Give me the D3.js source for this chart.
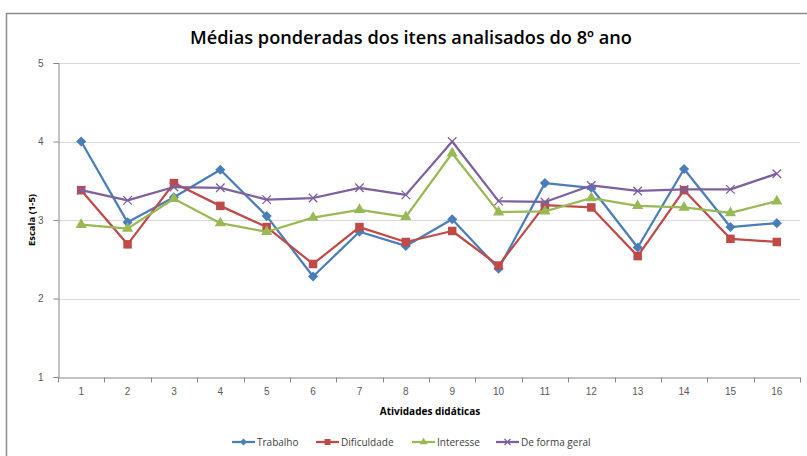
<!DOCTYPE html>
<html>
<head>
<meta charset="utf-8">
<script src="https://cdn.jsdelivr.net/npm/d3@7"></script>
<style>
  body { margin: 0; background: #fff; }
  svg { display: block; font-family: "Open Sans", "Liberation Sans", sans-serif; }
</style>
</head>
<body>
<svg width="807" height="456"></svg>
<script>
const width = 807
const height = 456
const svg = d3.select('svg')

// data
const atividades = d3.range(1, 17)
const yTicks = [1, 2, 3, 4, 5]
const trabalho = [4.0, 2.97, 3.29, 3.64, 3.05, 2.28, 2.85, 2.67, 3.01, 2.38, 3.47, 3.41, 2.65, 3.65, 2.91, 2.96]
const dificuldade = [3.38, 2.69, 3.47, 3.18, 2.91, 2.44, 2.91, 2.72, 2.86, 2.42, 3.19, 3.16, 2.54, 3.38, 2.76, 2.72]
const interesse = [2.94, 2.89, 3.27, 2.96, 2.85, 3.03, 3.13, 3.04, 3.85, 3.10, 3.11, 3.28, 3.18, 3.16, 3.09, 3.24]
const formaGeral = [3.38, 3.25, 3.42, 3.41, 3.26, 3.28, 3.41, 3.32, 4.0, 3.24, 3.23, 3.44, 3.37, 3.39, 3.39, 3.59]

const series = [
  { name: 'Trabalho', values: trabalho, color: '#4A7EBB', marker: 'diamond' },
  { name: 'Dificuldade', values: dificuldade, color: '#BE4B48', marker: 'square' },
  { name: 'Interesse', values: interesse, color: '#98B954', marker: 'triangle' },
  { name: 'De forma geral', values: formaGeral, color: '#7D60A0', marker: 'cross' }
]

const plot = { left: 58, right: 800, top: 63, bottom: 377 }

// chart frame
svg.append('rect')
  .attr('x', 6.5).attr('y', 13.5)
  .attr('width', 830).attr('height', 480)
  .attr('fill', 'white')
  .attr('stroke', '#8c8c8c')
  .attr('stroke-width', 1.5)

const x = d3.scaleBand()
  .domain(atividades)
  .range([plot.left, plot.right])

const y = d3.scaleLinear()
  .domain([1, 5])
  .range([plot.bottom, plot.top])

// gridlines
svg.append('g')
  .selectAll('line')
  .data(yTicks.filter(d => d > 1))
  .join('line')
  .attr('x1', plot.left).attr('x2', plot.right)
  .attr('y1', d => Math.round(y(d)) + 0.5).attr('y2', d => Math.round(y(d)) + 0.5)
  .attr('stroke', '#d9d9d9')
  .attr('stroke-width', 1)

// y axis
const yAxis = svg.append('g')
  .attr('transform', `translate(${plot.left + 0.5},0)`)
  .call(d3.axisLeft(y).tickValues(yTicks).tickSize(5).tickPadding(10).tickFormat(d3.format('d')))
yAxis.select('.domain').attr('stroke', '#868686')
yAxis.selectAll('.tick line').attr('stroke', '#868686')
yAxis.selectAll('text').attr('fill', '#595959').style('font-size', '10px')

// x axis
const xAxis = svg.append('g')
  .attr('transform', `translate(0,${plot.bottom + 0.5})`)
  .call(d3.axisBottom(x).tickSize(0).tickPadding(10))
xAxis.select('.domain').attr('stroke', '#868686')
xAxis.selectAll('text').attr('fill', '#595959').style('font-size', '10px')
xAxis.selectAll('.bound')
  .data(d3.range(0, 17))
  .join('line')
  .attr('x1', i => Math.round(plot.left + i * x.step()) + 0.5)
  .attr('x2', i => Math.round(plot.left + i * x.step()) + 0.5)
  .attr('y1', 0).attr('y2', 5)
  .attr('stroke', '#868686')

// title and axis labels
svg.append('text')
  .attr('x', 411).attr('y', 44)
  .attr('text-anchor', 'middle')
  .style('font-size', '18.2px')
  .style('font-weight', 600)
  .attr('fill', '#000')
  .text('Médias ponderadas dos itens analisados do 8º ano')

svg.append('text')
  .attr('transform', `translate(35,${(plot.top + plot.bottom) / 2}) rotate(-90)`)
  .attr('text-anchor', 'middle')
  .style('font-size', '9.5px')
  .style('font-weight', 'bold')
  .text('Escala (1-5)')

svg.append('text')
  .attr('x', 430).attr('y', 415)
  .attr('text-anchor', 'middle')
  .style('font-size', '10px')
  .style('font-weight', 'bold')
  .text('Atividades didáticas')

const cx = i => x(atividades[i]) + x.bandwidth() / 2

function drawMarker(g, type, color, size) {
  if (type === 'diamond') {
    g.append('path')
      .attr('d', d3.symbol(d3.symbolDiamond2, size * size * 0.9)())
      .attr('fill', color)
  } else if (type === 'square') {
    g.append('rect')
      .attr('x', -size / 2).attr('y', -size / 2)
      .attr('width', size).attr('height', size)
      .attr('fill', color)
  } else if (type === 'triangle') {
    g.append('path')
      .attr('d', d3.symbol(d3.symbolTriangle, size * size * 0.75)())
      .attr('fill', color)
  } else {
    const h = size / 2
    g.append('path')
      .attr('d', `M${-h},${-h}L${h},${h}M${-h},${h}L${h},${-h}`)
      .attr('stroke', color)
      .attr('stroke-width', 1.3)
      .attr('fill', 'none')
  }
}

const line = d3.line()
  .x((d, i) => cx(i))
  .y(d => y(d))

series.forEach(s => {
  svg.append('path')
    .datum(s.values)
    .attr('d', line)
    .attr('fill', 'none')
    .attr('stroke', s.color)
    .attr('stroke-width', 2.25)
    .attr('stroke-linejoin', 'round')
  s.values.forEach((v, i) => {
    const g = svg.append('g').attr('transform', `translate(${cx(i)},${y(v)})`)
    drawMarker(g, s.marker, s.color, 8.5)
  })
})

// legend
const legendX = [232, 316, 412, 496]
series.forEach((s, i) => {
  const g = svg.append('g').attr('transform', `translate(${legendX[i]},442)`)
  g.append('line')
    .attr('x1', 0).attr('x2', 23)
    .attr('stroke', s.color)
    .attr('stroke-width', 2.25)
  const m = g.append('g').attr('transform', 'translate(11.5,0)')
  drawMarker(m, s.marker, s.color, 6)
  g.append('text')
    .attr('x', 25).attr('y', 3.5)
    .style('font-size', '10px')
    .attr('fill', '#404040')
    .text(s.name)
})
</script>
</body>
</html>
